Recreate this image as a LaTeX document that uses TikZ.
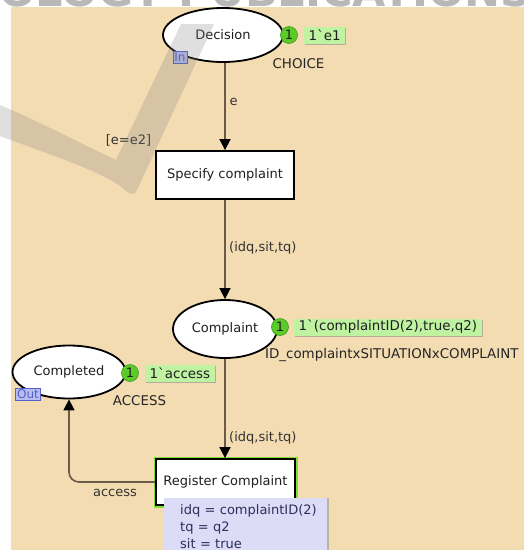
\documentclass[tikz,border=0pt]{standalone}
\usepackage{fontspec}
\setmainfont{DejaVu Sans}
\usetikzlibrary{shapes.geometric,arrows.meta,shadows}

\definecolor{canvas}{HTML}{F3DCB2}
\definecolor{arcline}{HTML}{6B5A45}
\definecolor{tokfill}{HTML}{5CCB2A}
\definecolor{tokline}{HTML}{3C9A18}
\definecolor{markfill}{HTML}{BFF3A2}
\definecolor{portfill}{HTML}{B8BEF0}
\definecolor{portline}{HTML}{5560C8}
\definecolor{bindfill}{HTML}{DCDCF7}
\definecolor{bindtext}{HTML}{2E2E5C}
\definecolor{enabled}{HTML}{7FDD3A}

% multiset separator of the marking inscriptions
\newcommand\btick{{\char"02CB}}
% left indent of the binding lines
\newcommand\bindindent{\hspace*{8pt}}

\begin{document}
\begin{tikzpicture}[x=1pt,y=-1pt,
  every node/.style={font=\fontsize{13}{15}\selectfont, text=black!88},
  place/.style={ellipse, draw=black, line width=1.8pt, fill=white, inner sep=0pt},
  trans/.style={rectangle, draw=black, line width=1.8pt, fill=white,
    minimum width=138pt, minimum height=48pt, inner sep=0pt},
  live/.style={preaction={draw=enabled, line width=5pt}},
  arc/.style={draw=arcline, line width=1.6pt,
    -{Triangle[length=11pt,width=11pt,color=black]}},
  arclabel/.style={text=black!80, inner sep=0pt},
  token/.style={circle, fill=tokfill, draw=tokline, line width=0.6pt,
    minimum size=17pt, inner sep=0pt},
  marking/.style={fill=markfill, inner xsep=4.5pt, inner ysep=0pt,
    minimum height=17pt, anchor=west,
    font=\fontsize{13.4}{15}\selectfont,
    drop shadow={shadow xshift=1.2pt, shadow yshift=-1.2pt, fill=black!45, opacity=0.6}},
  colset/.style={inner sep=0pt, text=black!85, font=\fontsize{13.4}{15}\selectfont},
  port/.style={draw=portline, fill=portfill, text=portline, line width=0.8pt,
    inner xsep=1.5pt, inner ysep=0pt, minimum height=12pt,
    font=\fontsize{12}{12}\selectfont},
  bind/.style={fill=bindfill, anchor=north west, text width=147pt,
    inner xsep=8pt, inner ysep=3pt, minimum height=56pt, align=left,
    text=bindtext, font=\fontsize{13}{17}\selectfont,
    drop shadow={shadow xshift=1.5pt, shadow yshift=0pt, fill=black!40, opacity=0.6}}
]
\useasboundingbox (0,0) rectangle (524,550);

% sheet
\fill[white] (0,0) rectangle (524,550);
\fill[canvas] (11,7) rectangle (524,550);

% lettering along the upper edge
\begin{scope}
  \clip (0,0) rectangle (524,7);
  \node[anchor=base west, inner sep=0pt, text=black!28,
        font=\bfseries\fontsize{43}{43}\selectfont] (banner) at (-1,6.5) {OLOGY PUBLICATIONS};
\end{scope}

% places
\node[place, minimum width=120pt, minimum height=54pt] (dec) at (223,35) {Decision};
\node[place, minimum width=104pt, minimum height=58pt] (cpl) at (225,329) {Complaint};
\node[place, minimum width=113pt, minimum height=53pt] (done) at (69,372) {Completed};

% transitions
\node[trans] (spec) at (225,175) {Specify complaint};
\node[trans, live, minimum width=139pt, minimum height=46pt] (reg) at (225.5,482) {Register Complaint};

% arcs
\draw[arc] (spec.north |- dec.south) -- (spec.north);
\draw[arc] (spec.south) -- (cpl.north);
\draw[arc] (cpl.south) -- (cpl.south |- reg.north);
\draw[arc, rounded corners=10pt] (reg.west) -| (done.south);

% arc inscriptions and guard
\node[arclabel] (lblE) at (233.5,102) {e};
\node[arclabel] (lblGuard) at (128.5,140) {[e=e2]};
\node[arclabel, anchor=west] (lblOut) at (229,248) {(idq,sit,tq)};
\node[arclabel, anchor=west] (lblIn) at (229,438) {(idq,sit,tq)};
\node[arclabel] (lblAccess) at (115,493) {access};

% colour sets
\node[colset] (decType) at (298.5,64) {CHOICE};
\node[colset, anchor=west] (cplType) at (265,355) {ID\_complaintxSITUATIONxCOMPLAINT};
\node[colset] (doneType) at (139.5,401) {ACCESS};

% port tags
\node[port] (decPort) at (180,57) {In};
\node[port] (donePort) at (28,394) {Out};

% markings
\node[token] (decTok) at (289,35) {1};
\node[marking] (decMark) at (304,35) {1\btick e1};
\node[token] (cplTok) at (280,327) {1};
\node[marking] (cplMark) at (294,327) {1\btick(complaintID(2),true,q2)};
\node[token] (doneTok) at (130,373) {1};
\node[marking] (doneMark) at (145,373) {1\btick access};

% binding of the enabled transition
\node[bind] (binding) at (164,498)
  {\bindindent idq = complaintID(2)\\\bindindent tq = q2\\\bindindent sit = true};

% translucent swoosh over the sheet
\fill[black!50, opacity=0.25]
  (181,24) -- (116,160)
  .. controls (80,143) and (40,122) .. (0,105)
  -- (0,136)
  .. controls (50,155) and (105,172) .. (125,190)
  .. controls (130,195) and (134,196) .. (137,190)
  -- (214,24) -- cycle;
\end{tikzpicture}
\end{document}
